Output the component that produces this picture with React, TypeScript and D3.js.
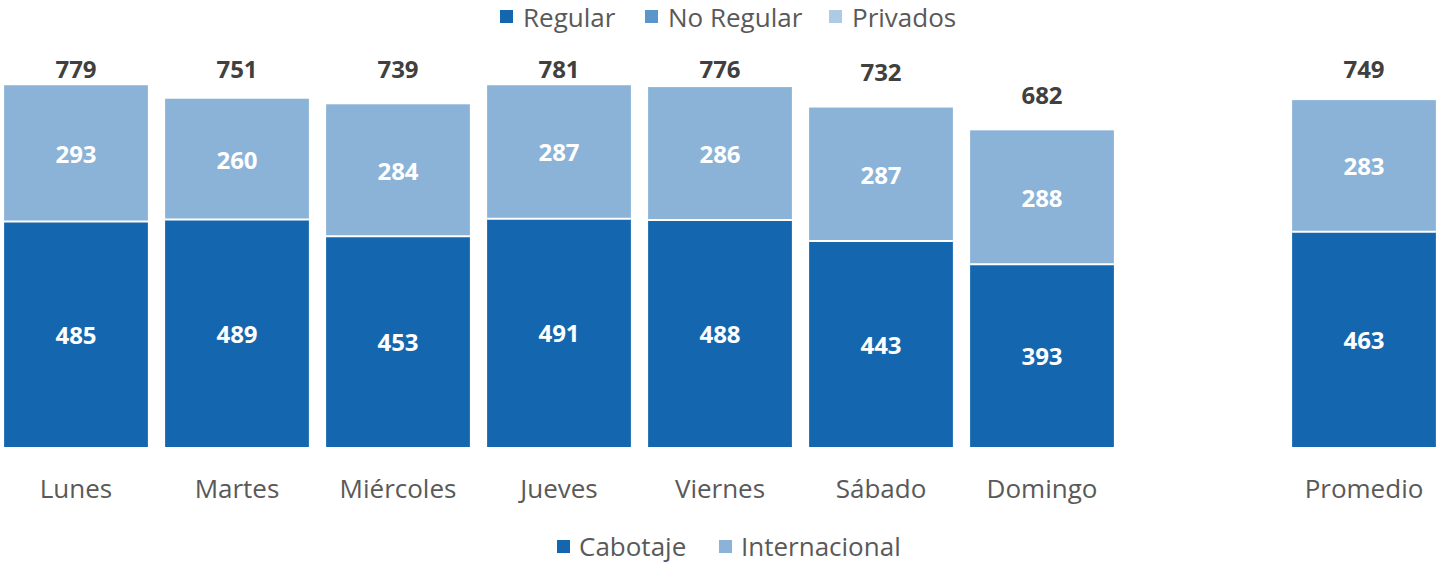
import React from "react";
import * as d3 from "d3";

const categories = ["Lunes", "Martes", "Miércoles", "Jueves", "Viernes", "Sábado", "Domingo", "", "Promedio"];
const cabotaje = [485, 489, 453, 491, 488, 443, 393, null, 463];
const internacional = [293, 260, 284, 287, 286, 287, 288, null, 283];
const totals = [779, 751, 739, 781, 776, 732, 682, null, 749];
const topLegend = ["Regular", "No Regular", "Privados"];
const topLegendColors = ["#1467AF", "#5B96CB", "#AECBE5"];
const bottomLegend = ["Cabotaje", "Internacional"];

const W = 1441;
const H = 563;
const C_CAB = "#1467AF";
const C_INT = "#8AB3D7";
const FONT = "'Open Sans', Lato, sans-serif";

export default function App() {
  const x = d3.scaleBand<string>().domain(categories.map((c, i) => c + i)).range([-4.5, 1444.5]).paddingInner(0.107).paddingOuter(0.0535);
  const y = d3.scaleLinear().domain([0, 800]).range([447, 75]);
  const bw = x.bandwidth();

  return (
    <svg width={W} height={H} style={{ position: "absolute", left: 0, top: 0, fontFamily: FONT }}>
      <rect width={W} height={H} fill="#fff" />
      {categories.map((c, i) => {
        const cab = cabotaje[i];
        const intl = internacional[i];
        const tot = totals[i];
        if (cab == null || intl == null || tot == null) return null;
        const x0 = x(c + i)!;
        const cx = x0 + bw / 2;
        const yCab = y(cab);
        const yTop = y(cab + intl);
        const labelY = Math.max(68, yTop - 36);
        return (
          <g key={i}>
            <rect x={x0} y={yCab} width={bw} height={y(0) - yCab} fill={C_CAB} />
            <rect x={x0} y={yTop} width={bw} height={yCab - yTop} fill={C_INT} />
            <line x1={x0} x2={x0 + bw} y1={yCab} y2={yCab} stroke="#fff" strokeWidth={2} />
            <text x={cx} y={(yCab + y(0)) / 2} textAnchor="middle" dominantBaseline="central" fill="#fff" fontWeight="bold" fontSize={24}>{cab}</text>
            <text x={cx} y={(yTop + yCab) / 2} textAnchor="middle" dominantBaseline="central" fill="#fff" fontWeight="bold" fontSize={24}>{intl}</text>
            <text x={cx} y={labelY} textAnchor="middle" dominantBaseline="central" fill="#404040" fontWeight="bold" fontSize={24}>{tot}</text>
            <text x={cx} y={488} textAnchor="middle" dominantBaseline="central" fill="#595959" fontSize={26}>{c}</text>
          </g>
        );
      })}
      {topLegend.map((t, i) => {
        const xs = [500, 645, 829][i];
        return (
          <g key={t}>
            <rect x={xs} y={10} width={13} height={13} fill={topLegendColors[i]} />
            <text x={xs + 23} y={17} dominantBaseline="central" fill="#595959" fontSize={26}>{t}</text>
          </g>
        );
      })}
      {bottomLegend.map((t, i) => {
        const xs = [557, 719][i];
        return (
          <g key={t}>
            <rect x={xs} y={540} width={13} height={13} fill={[C_CAB, C_INT][i]} />
            <text x={xs + 22} y={546} dominantBaseline="central" fill="#595959" fontSize={26}>{t}</text>
          </g>
        );
      })}
    </svg>
  );
}
